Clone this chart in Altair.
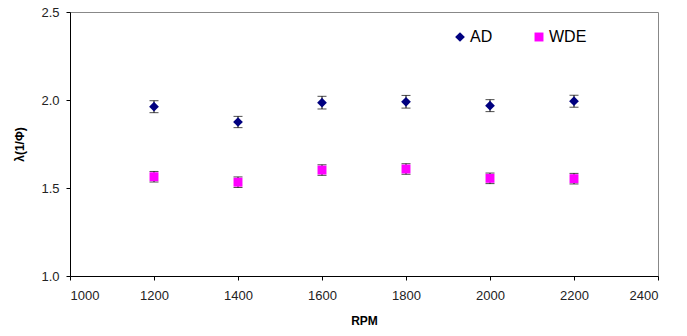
import altair as alt
import pandas as pd

rpm = [1200, 1400, 1600, 1800, 2000, 2200]
ad_vals = [1.962, 1.875, 1.985, 1.990, 1.968, 1.993]
ad_err = [0.034, 0.032, 0.036, 0.036, 0.034, 0.034]
wde_vals = [1.564, 1.533, 1.602, 1.608, 1.555, 1.553]
wde_err = [0.030, 0.030, 0.030, 0.030, 0.030, 0.030]
series_names = ["AD", "WDE"]
series_colors = ["#000080", "#FF00FF"]
series_shapes = ["diamond", "square"]

rows = []
for r, v, e in zip(rpm, ad_vals, ad_err):
    rows.append({"RPM": r, "val": v, "lo": v - e, "hi": v + e, "series": "AD"})
for r, v, e in zip(rpm, wde_vals, wde_err):
    rows.append({"RPM": r, "val": v, "lo": v - e, "hi": v + e, "series": "WDE"})
df = pd.DataFrame(rows)

FONT = "Liberation Sans"

x = alt.X("RPM:Q", scale=alt.Scale(domain=[1000, 2400], nice=False),
          axis=alt.Axis(values=[1000, 1200, 1400, 1600, 1800, 2000, 2200, 2400],
                        labelPadding=9, labelFontSize=13, title="RPM",
                        titlePadding=13, format="d"))
y = alt.Y("val:Q", scale=alt.Scale(domain=[1.0, 2.5], nice=False, zero=False),
          axis=alt.Axis(values=[1.0, 1.5, 2.0, 2.5], format=".1f",
                        labelPadding=7, labelFontSize=13, title="λ(1/Φ)",
                        titlePadding=14))

base = alt.Chart(df)

bars = base.mark_rule(color="#000", strokeWidth=1).encode(
    x=x, y=alt.Y("lo:Q", scale=alt.Scale(domain=[1.0, 2.5], nice=False, zero=False)), y2="hi:Q")
cap_lo = base.mark_tick(color="#000", size=9, thickness=1, orient="horizontal").encode(
    x="RPM:Q", y="lo:Q")
cap_hi = base.mark_tick(color="#000", size=9, thickness=1, orient="horizontal").encode(
    x="RPM:Q", y="hi:Q")

points = base.mark_point(filled=True, opacity=1, strokeWidth=0).encode(
    x=x, y=y,
    color=alt.Color("series:N", scale=alt.Scale(domain=series_names, range=series_colors),
                    legend=alt.Legend(title=None, orient="none", legendX=382, legendY=17,
                                      direction="horizontal", labelFont=FONT, labelFontSize=16,
                                      labelColor="#000", symbolSize=70, labelOffset=2,
                                      columnPadding=38, symbolStrokeWidth=0)),
    shape=alt.Shape("series:N", scale=alt.Scale(domain=series_names, range=series_shapes)),
    size=alt.Size("series:N", scale=alt.Scale(domain=series_names, range=[95, 80]), legend=None),
)

chart = alt.layer(bars, cap_lo, cap_hi, points).resolve_axis(y="shared").properties(
    width=588, height=264,
    autosize=alt.AutoSizeParams(type="none"),
    padding={"left": 70, "top": 12, "right": 29, "bottom": 60},
    background="white",
).configure_view(stroke="#888", strokeWidth=1).configure_axis(
    grid=False, domainColor="#000", domainWidth=1, tickColor="#000", tickSize=4,
    labelFont=FONT, labelColor="#222", titleFont=FONT, titleFontSize=12,
    titleFontWeight="bold", titleColor="#000", zindex=1,
)

chart.save("out.html", embed_options={"renderer": "svg", "actions": False})
